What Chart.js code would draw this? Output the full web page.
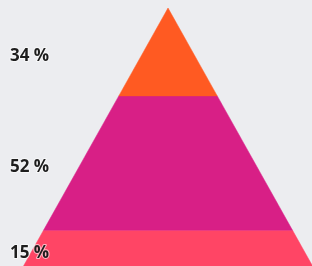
<!DOCTYPE html>
<html><head><meta charset="utf-8">
<script src="https://cdn.jsdelivr.net/npm/chart.js@4/dist/chart.umd.min.js"></script>
<style>html,body{margin:0;padding:0;background:#ecedf0;}#wrap{width:312px;height:266px;position:relative;}</style>
</head><body><div id="wrap"><canvas id="c"></canvas></div>
<script>
// Data (top to bottom of pyramid)
const categories = ['Top', 'Middle', 'Bottom'];
const values = [34, 52, 15];
const labels = ['34 %', '52 %', '15 %'];
const colors = ['#ff5a22', '#d81f86', '#ff4565'];

const K = 0.56; // half-width per unit of depth (pyramid slope)
let acc = 0;
const segs = values.map(v => { const t = acc; acc += v; return {t, b: acc}; });

const datasets = segs.map((s, i) => ({
  label: categories[i],
  data: [
    {x: -K * s.t, y: s.t}, {x: K * s.t, y: s.t},
    {x: K * s.b, y: s.b}, {x: -K * s.b, y: s.b},
    {x: -K * s.t, y: s.t}
  ],
  backgroundColor: colors[i],
  borderColor: colors[i],
  borderWidth: 0.5,
  pointRadius: 0,
  tension: 0,
  fill: 'shape'
}));
// white separators between segments
segs.slice(0, -1).forEach(s => {
  datasets.push({
    label: 'sep',
    data: [{x: -K * s.b, y: s.b}, {x: K * s.b, y: s.b}],
    borderColor: '#ffffff',
    borderWidth: 1.5,
    pointRadius: 0,
    fill: false
  });
});

const labelPlugin = {
  id: 'pyrLabels',
  afterDatasetsDraw(chart) {
    const ctx = chart.ctx, ys = chart.scales.y;
    ctx.save();
    ctx.font = 'bold 17px "Open Sans", "Noto Sans", sans-serif';
    ctx.textAlign = 'left';
    ctx.textBaseline = 'middle';
    ctx.lineJoin = 'round';
    segs.forEach((s, i) => {
      const y = ys.getPixelForValue((s.t + s.b) / 2) + 4;
      ctx.strokeStyle = 'rgba(255,255,255,0.6)';
      ctx.lineWidth = 2;
      ctx.strokeText(labels[i], 10, y);
      ctx.fillStyle = '#1e1e1e';
      ctx.fillText(labels[i], 10, y);
    });
    ctx.restore();
  }
};

new Chart(document.getElementById('c'), {
  type: 'line',
  data: { datasets },
  options: {
    responsive: true, maintainAspectRatio: false, animation: false,
    layout: { padding: 0 },
    plugins: { legend: { display: false }, tooltip: { enabled: false } },
    scales: {
      x: { type: 'linear', display: false, min: -65.0, max: 55.7 },
      y: { type: 'linear', display: false, reverse: true, min: -3.1, max: 99.83 }
    }
  },
  plugins: [labelPlugin]
});
</script></body></html>
